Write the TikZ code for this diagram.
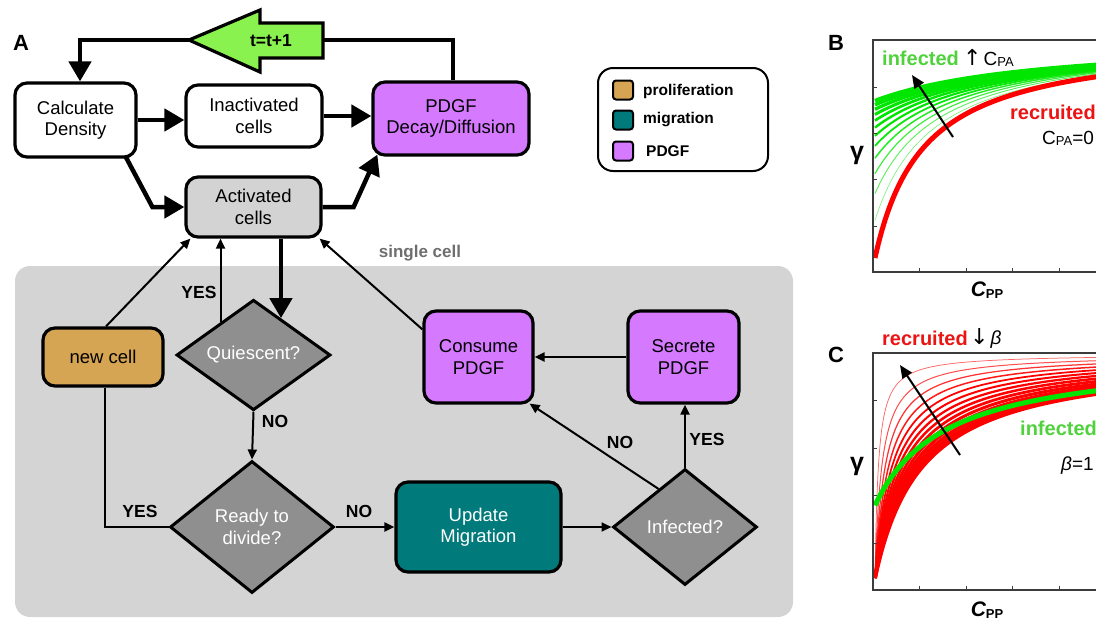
\documentclass[tikz,border=0pt]{standalone}
\usepackage{fontspec}
\setmainfont{Liberation Sans}
\newfontfamily\arrfont{DejaVu Sans}
\usetikzlibrary{shapes.geometric,arrows.meta,calc}
\newcommand\nfont{\fontsize{18.5}{21.5}\selectfont}
\definecolor{pdgfc}{RGB}{213,121,255}
\definecolor{tealc}{RGB}{0,122,122}
\definecolor{tanc}{RGB}{214,165,83}
\definecolor{greenarr}{RGB}{138,242,78}
\definecolor{lgray}{RGB}{211,211,211}
\definecolor{bggray}{RGB}{212,212,212}
\definecolor{dgray}{RGB}{143,143,143}
\definecolor{sgray}{RGB}{110,110,110}
\definecolor{curvegreen}{RGB}{0,230,0}
\definecolor{txtgreen}{RGB}{80,210,60}
\definecolor{curvered}{RGB}{255,0,0}
\definecolor{txtred}{RGB}{235,20,20}
\definecolor{axisc}{RGB}{60,60,60}
\begin{document}
\begin{tikzpicture}[x=1pt,y=-1pt,
  box/.style={draw, line width=3.2pt, rounded corners=12pt, align=center, inner sep=0pt, font=\nfont},
  dia/.style={diamond, draw, line width=3pt, fill=dgray, text=white, align=center, inner sep=0pt, font=\nfont},
  thickarrow/.style={line width=4.5pt, -{Triangle[length=20pt,width=22pt]}},
  thickline/.style={line width=4.5pt},
  thinarrow/.style={line width=2pt, -{Triangle[length=10pt,width=9pt]}},
  thinline/.style={line width=2pt},
  lbl/.style={font=\bfseries\fontsize{17.5}{20}\selectfont, inner sep=0pt},
  plab/.style={font=\bfseries\fontsize{22}{26}\selectfont, inner sep=0pt},
  sq/.style={draw, line width=2pt, rounded corners=3pt, minimum width=20pt, minimum height=19pt, inner sep=0pt},
  legtxt/.style={anchor=west, font=\bfseries\fontsize{15.5}{18}\selectfont, inner sep=0pt},
  axisline/.style={axisc, line width=1.5pt},
  tick/.style={axisc, line width=0.8pt},
  blackarrow/.style={line width=2pt, -{Triangle[length=13pt,width=11pt]}},
  ptxtb/.style={anchor=west, font=\bfseries\fontsize{20}{24}\selectfont, inner sep=0pt},
  ptxt/.style={anchor=west, font=\fontsize{19}{24}\selectfont, inner sep=0pt},
  glab/.style={font=\bfseries\fontsize{25}{28}\selectfont, inner sep=0pt},
]
\useasboundingbox (0,0) rectangle (1096,619);

% ---------- panel A ----------
\fill[bggray, rounded corners=15pt] (15,266) rectangle (793,617);
\node[font=\bfseries\fontsize{17}{20}\selectfont, text=sgray] (sc) at (420,253) {single cell};
\node[plab] (la) at (21,43) {A};

% green t=t+1 arrow
\filldraw[fill=greenarr, line width=3.2pt, line join=miter] (189,40) -- (260,10) -- (260,23) -- (323,23) -- (323,58) -- (260,58) -- (260,72) -- cycle;
\coordinate (ttip) at (189,40);
\coordinate (ttail) at (323,40);
\node[lbl] (tt) at (271,41) {t=t+1};

% top boxes
\node[box, minimum width=121pt, minimum height=74pt] (calc) at (75.5,120) {Calculate\\Density};
\node[box, minimum width=136pt, minimum height=62pt] (inact) at (254,116) {Inactivated\\cells};
\node[box, fill=pdgfc, minimum width=156pt, minimum height=73pt] (pdgf) at (451,118.5) {PDGF\\Decay/Diffusion};
\node[box, fill=lgray, minimum width=135pt, minimum height=60pt] (act) at (253.5,207) {Activated\\cells};

% legend
\node[draw, line width=2pt, rounded corners=15pt, minimum width=170pt, minimum height=103pt] (leg) at (683,119.5) {};
\node[sq, fill=tanc] (sq1) at (623,90) {};
\node[sq, fill=tealc] (sq2) at (623,120) {};
\node[sq, fill=pdgfc] (sq3) at (623,151) {};
\node[legtxt] (lt1) at (643,91) {proliferation};
\node[legtxt] (lt2) at (643,120) {migration};
\node[legtxt] (lt3) at (646,151) {PDGF};

% lower nodes
\node[box, fill=tanc, minimum width=120pt, minimum height=58pt] (newcell) at (103,357) {new cell};
\node[dia, minimum width=154pt, minimum height=104pt] (quies) at (253.5,355) {Quiescent?};
\node[dia, minimum width=164pt, minimum height=132pt] (ready) at (252,527) {Ready to\\divide?};
\node[box, fill=tealc, text=white, minimum width=165pt, minimum height=90pt] (update) at (478.5,527) {Update\\Migration};
\node[dia, minimum width=144pt, minimum height=116pt] (infected) at (685,527) {Infected?};
\node[box, fill=pdgfc, minimum width=109pt, minimum height=92pt] (consume) at (478.5,357) {Consume\\PDGF};
\node[box, fill=pdgfc, minimum width=111pt, minimum height=92pt] (secrete) at (683.5,357) {Secrete\\PDGF};

% thick connectors
\draw[thickline] (ttail) -| ([xshift=2pt]pdgf.north);
\draw[thickarrow] (ttip) -| ([xshift=4.5pt]calc.north);
\draw[thickarrow] (calc.east) -- (calc.east -| inact.west);
\draw[thickarrow] (inact.east) -- (inact.east -| pdgf.west);
\draw[thickarrow] ([xshift=-12pt,yshift=2pt]calc.south east) -- ([xshift=-32pt]act.west) -- (act.west);
\draw[thickarrow] (act.east) -- ++(31,0) -- ([xshift=6pt,yshift=2pt]pdgf.south west);

% thin connectors
\draw[thinarrow] ([xshift=3pt]newcell.north) -- ([xshift=6pt]act.south west);
\coordinate (qyes) at ($(quies.west)!0.58!(quies.north)$);
\draw[thinarrow] (qyes) -- (qyes |- act.south);
\coordinate (qin) at ($(quies.north)!0.35!(quies.east)$);
\draw[thickarrow] (qin |- act.south) -- (qin);
\draw[thinarrow] (quies.south) -- (ready.north);
\draw[thinline] (ready.west) -| ([xshift=2pt]newcell.south);
\draw[thinarrow] (ready.east) -- (update.west);
\draw[thinarrow] (update.east) -- (infected.west);
\draw[thinarrow] (infected.north) -- (infected.north |- secrete.south);
\coordinate (ino) at ($(infected.west)!0.64!(infected.north)$);
\draw[thinarrow] (ino) -- ([xshift=-5pt,yshift=1pt]consume.south east);
\draw[thinarrow] (secrete.west) -- (consume.east);
\draw[thinarrow] ([yshift=-20pt]consume.north west) -- ([xshift=-3pt]act.south east);

% labels
\node[lbl] (lyes1) at (199,292) {YES};
\node[lbl] (lno1) at (275,421) {NO};
\node[lbl] (lyes2) at (140,511) {YES};
\node[lbl] (lno2) at (359,511) {NO};
\node[lbl] (lno3) at (620,442) {NO};
\node[lbl] (lyes3) at (707,439) {YES};

% ---------- panel B ----------
\node[plab] (lb) at (836,43) {B};
\begin{scope}
\clip (874,38) rectangle (1096,271);
\foreach \k in {1,...,12} {
  \pgfmathsetmacro\dd{10*\k+48.6}
  \pgfmathsetmacro\lw{0.3+0.3*\k}
  \pgfmathsetmacro\op{min(1,0.45+0.1*\k)}
  \draw[curvegreen, line width=\lw pt, opacity=\op] plot[domain=0:15, samples=70, smooth] ({875+\x*\x}, {37+10740.6/(\x*\x+\dd)});
}
\draw[curvered, line width=5pt] plot[domain=0:15, samples=90, smooth] ({875+\x*\x}, {37+10740.6/(\x*\x+48.6)});
\end{scope}
\draw[axisline] (1100,40) -- (873,40) -- (873,272) -- (1100,272);
\foreach \t in {919,966,1012,1059} \draw[tick] (\t,272) -- (\t,268);
\foreach \t in {226,179,133,87} \draw[tick] (873,\t) -- (877,\t);
\coordinate (bA) at (953,137);
\coordinate (bB) at (912,75);
\draw[blackarrow] (bA) -- (bB);
\node[ptxtb, text=txtgreen] (binf) at (882,58) {infected};
\node[ptxt] (bcpa) at (963,58) {{\arrfont\fontsize{22}{22}\selectfont ↑}\hspace{2pt}C\raisebox{-1pt}{\fontsize{13}{13}\selectfont PA}};
\node[ptxtb, text=txtred] (brec) at (1010,112) {recruited};
\node[ptxt] (bcp0) at (1042,138) {C\raisebox{-1pt}{\fontsize{13}{13}\selectfont PA}=0};
\node[glab] (bg) at (857,155) {γ};
\node[font=\bfseries\itshape\fontsize{21}{24}\selectfont] (bx) at (987,290) {C\raisebox{-2pt}{\upshape\fontsize{13}{13}\selectfont PP}};

% ---------- panel C ----------
\node[plab] (lc) at (836,355) {C};
\begin{scope}
\clip (874,351) rectangle (1096,589);
\foreach \k in {1,...,14} {
  \pgfmathsetmacro\kk{3.43*\k}
  \pgfmathsetmacro\lw{0.5+0.25*\k}
  \pgfmathsetmacro\op{min(1,0.5+0.1*\k)}
  \draw[curvered, line width=\lw pt, opacity=\op] plot[domain=0:15, samples=90, smooth] ({875+\x*\x}, {354+224*(\kk/(\x*\x+\kk))});
}
\draw[curvegreen, line width=5pt] plot[domain=0:15, samples=90, smooth] ({875+\x*\x}, {354+10752/(\x*\x+71)});
\end{scope}
\draw[axisline] (1100,353) -- (873,353) -- (873,590) -- (1100,590);
\foreach \t in {919,966,1012,1059} \draw[tick] (\t,590) -- (\t,586);
\foreach \t in {543,495,448,400} \draw[tick] (873,\t) -- (877,\t);
\coordinate (cA) at (960,455);
\coordinate (cB) at (900,365);
\draw[blackarrow] (cA) -- (cB);
\node[ptxtb, text=txtred] (crec) at (882,338) {recruited};
\node[ptxt] (cbeta) at (970,338) {{\arrfont\fontsize{22}{22}\selectfont ↓}\hspace{2pt}\textit{β}};
\node[ptxtb, text=txtgreen] (cinf) at (1020,428) {infected};
\node[ptxt] (cb1) at (1061,466) {\textit{β}=1};
\node[glab] (cg) at (857,466) {γ};
\node[font=\bfseries\itshape\fontsize{21}{24}\selectfont] (cx) at (987,610) {C\raisebox{-2pt}{\upshape\fontsize{13}{13}\selectfont PP}};
\end{tikzpicture}
\end{document}
